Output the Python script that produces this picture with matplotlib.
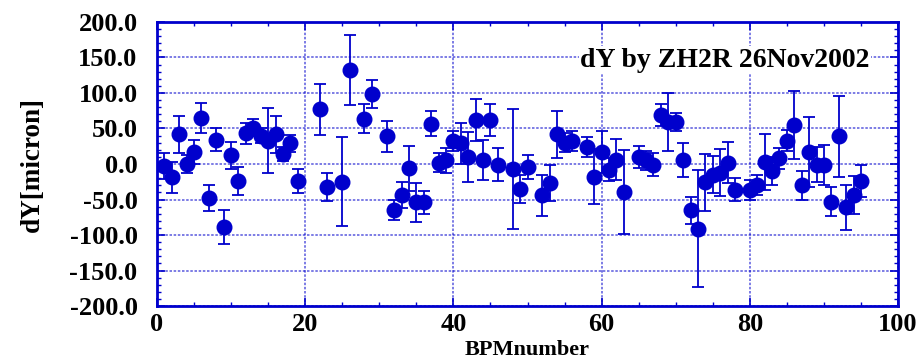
import numpy as np
import matplotlib.pyplot as plt
from matplotlib.ticker import MultipleLocator, FormatStrFormatter

bpm = [1, 2, 3, 4, 5, 6, 7, 8, 9, 10, 11, 12, 13, 14, 15, 16, 17, 18, 19,
       22, 23, 25, 26, 28, 29, 31, 32, 33, 34, 35, 36, 37, 38, 39, 40,
       41, 42, 43, 44, 45, 46, 48, 49, 50, 52, 53, 54, 55, 56, 58, 59,
       60, 61, 62, 63, 65, 66, 67, 68, 69, 70, 71, 72, 73, 74, 75, 76,
       77, 78, 80, 81, 82, 83, 84, 85, 86, 87, 88, 89, 90, 91, 92, 93, 94, 95]
dy = [-3, -19, 42, 0, 17, 65, -48, 34, -89, 12, -24, 43, 51, 40, 33, 42, 14, 29, -24,
      77, -32, -25, 132, 64, 99, 39, -65, -44, -6, -54, -54, 57, 2, 5, 32,
      29, 10, 62, 6, 62, -1, -7, -35, -4, -44, -27, 42, 30, 33, 24, -18,
      17, -8, 6, -39, 10, 5, -1, 69, 59, 59, 6, -65, -91, -26, -15, -12,
      2, -36, -36, -30, 3, -10, 8, 33, 55, -30, 17, -1, -1, -53, 39, -61, -44, -24]
err = [18, 22, 26, 13, 17, 21, 18, 16, 24, 19, 20, 15, 12, 10, 46, 26, 10, 12, 17,
       36, 20, 63, 49, 20, 20, 22, 14, 18, 32, 27, 16, 18, 13, 17, 14,
       29, 35, 30, 28, 22, 23, 85, 20, 17, 29, 25, 33, 13, 14, 14, 39,
       30, 16, 29, 59, 16, 14, 16, 15, 41, 13, 24, 19, 82, 40, 26, 33,
       29, 16, 14, 14, 39, 20, 15, 15, 48, 20, 49, 25, 28, 20, 57, 32, 27, 23]

blue = '#0000cc'
plt.rcParams['font.family'] = 'Liberation Serif'
plt.rcParams['font.weight'] = 'bold'

fig = plt.figure(figsize=(9.19, 3.64), dpi=100)
ax = fig.add_axes([0.1708, 0.1593, 0.8064, 0.7803])

ax.errorbar(bpm, dy, yerr=err, fmt='o', color=blue, ecolor=blue,
            markersize=10.5, elinewidth=1.3, capsize=4, capthick=1.3, zorder=3)

ax.set_xlim(0, 100)
ax.set_ylim(-200, 200)
ax.xaxis.set_major_locator(MultipleLocator(20))
ax.xaxis.set_minor_locator(MultipleLocator(5))
ax.yaxis.set_major_locator(MultipleLocator(50))
ax.yaxis.set_minor_locator(MultipleLocator(10))
ax.yaxis.set_major_formatter(FormatStrFormatter('%.1f'))

ax.grid(True, which='major', color=blue, linestyle=(0, (1.5, 1)), linewidth=1.2, alpha=0.6)
for s in ax.spines.values():
    s.set_color(blue)
    s.set_linewidth(2)
ax.tick_params(which='both', direction='in', top=True, right=True, color=blue)
ax.tick_params(which='major', length=6, width=1.2, labelsize=19)
ax.tick_params(axis='y', which='major', pad=14)
ax.tick_params(axis='x', which='major', pad=5)
ax.tick_params(which='minor', length=3, width=1)

ax.set_xlabel('BPMnumber', fontsize=16, fontweight='bold', labelpad=3)
ax.set_ylabel('dY[micron]', fontsize=19.5, fontweight='bold', labelpad=18)

ax.text(0.962, 0.866, 'dY by ZH2R 26Nov2002', transform=ax.transAxes,
        ha='right', va='center', fontsize=20, fontweight='bold',
        bbox=dict(facecolor='white', edgecolor='none', pad=1), zorder=4)

fig.savefig('out.png', dpi=100)
